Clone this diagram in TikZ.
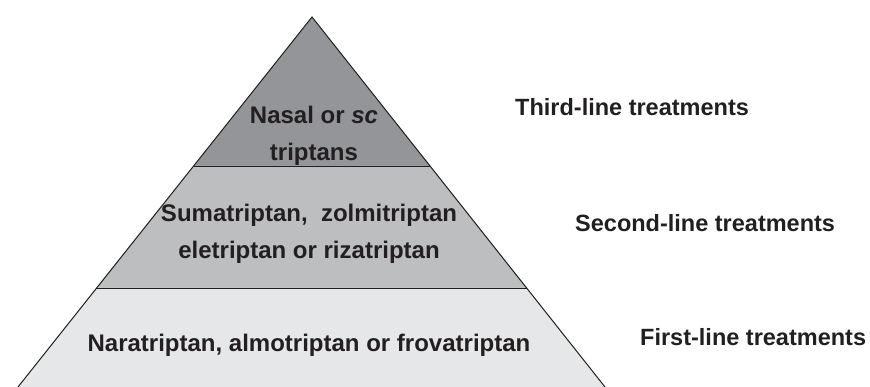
\documentclass[tikz,border=0pt]{standalone}
\usepackage{fontspec}
\setmainfont{Liberation Sans}
\definecolor{topgray}{HTML}{939598}
\definecolor{midgray}{HTML}{BCBEC0}
\definecolor{lowgray}{HTML}{E6E7E8}
\definecolor{inkdark}{HTML}{231F20}
\tikzset{
  bandtext/.style={text=inkdark, font=\bfseries\fontsize{24}{36}\selectfont, anchor=base, inner sep=0pt},
  sidelabel/.style={text=inkdark, font=\bfseries\fontsize{23.5}{28}\selectfont, anchor=base west, inner sep=0pt},
  edgeline/.style={draw=inkdark, line width=1pt},
  sepline/.style={draw=inkdark, line width=0.8pt}
}
\begin{document}
\begin{tikzpicture}[x=1pt,y=1pt]
\useasboundingbox (0,0) rectangle (870,387);
\coordinate (apex) at (312,370);
\coordinate (tl) at (193.5,221);
\coordinate (tr) at (430.5,221);
\coordinate (ml) at (96,99);
\coordinate (mr) at (527,99);
\coordinate (bl) at (18,0);
\coordinate (br) at (605,0);
\fill[topgray] (apex) -- (tl) -- (tr) -- cycle;
\fill[midgray] (tl) -- (ml) -- (mr) -- (tr) -- cycle;
\fill[lowgray] (ml) -- (bl) -- (br) -- (mr) -- cycle;
\draw[sepline] (tl) -- (tr);
\draw[sepline] (ml) -- (mr);
\draw[edgeline] (bl) -- (apex) -- (br);
\node[bandtext] (third1) at (314,263.5) {Nasal or \textit{sc}};
\node[bandtext] (third2) at (314,226.5) {triptans};
\node[bandtext] (second1) at (309,165.5) {Sumatriptan,\ \ zolmitriptan};
\node[bandtext] (second2) at (309,128.5) {eletriptan or rizatriptan};
\node[bandtext] (first) at (309,35.5) {Naratriptan, almotriptan or frovatriptan};
\node[sidelabel] (l3) at (515,271.5) {Third-line treatments};
\node[sidelabel] (l2) at (575,155.5) {Second-line treatments};
\node[sidelabel] (l1) at (640,41.5) {First-line treatments};
\end{tikzpicture}
\end{document}
